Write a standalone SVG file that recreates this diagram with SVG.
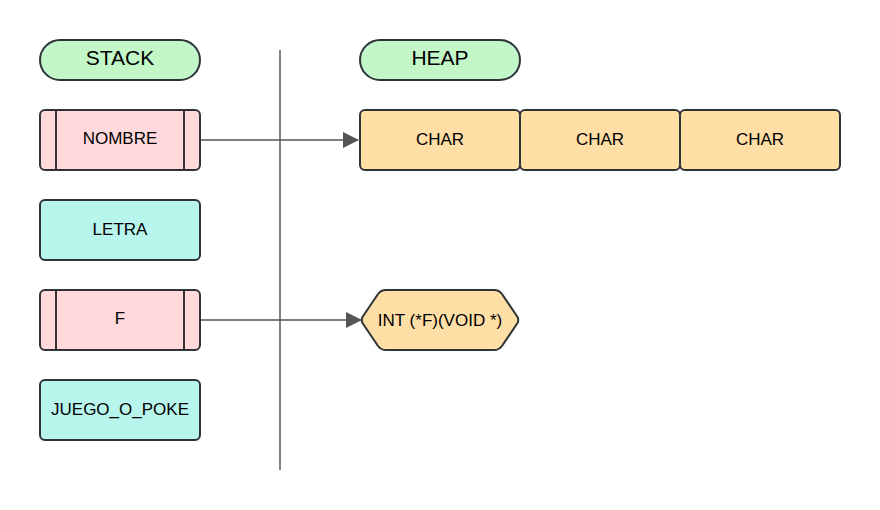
<svg xmlns="http://www.w3.org/2000/svg" width="880" height="510" viewBox="0 0 880 510">
<defs>
<style>
.b{stroke:#2f3337;stroke-width:2}
.pill{fill:#c3f7c8}
.pink{fill:#ffd9db}
.cyan{fill:#b8f5ec}
.org{fill:#ffdfa6}
text{font-family:"Liberation Sans",Arial,sans-serif;font-size:17px;fill:#000;text-anchor:middle;dominant-baseline:central}
.t{font-size:21px}
.c{stroke:#555;stroke-width:1.5;fill:none}
</style>
<marker id="ah" markerWidth="16" markerHeight="16" refX="15" refY="8" orient="auto" markerUnits="userSpaceOnUse"><path d="M0,0 L16,8 L0,16 Z" fill="#555"/></marker>
</defs>
<rect width="880" height="510" fill="#fff"/>
<g id="divider"><line x1="280" y1="50" x2="280" y2="470" class="c"/></g>
<g id="stack"><rect x="40" y="40" width="160" height="40" rx="20" class="b pill"/><text x="120" y="57" class="t">STACK</text></g>
<g id="heap"><rect x="360" y="40" width="160" height="40" rx="20" class="b pill"/><text x="440" y="57" class="t">HEAP</text></g>
<g id="nombre"><rect x="40" y="110" width="160" height="60" rx="5" class="b pink"/><line x1="56" y1="110" x2="56" y2="170" class="b"/><line x1="184" y1="110" x2="184" y2="170" class="b"/><text x="120" y="138">NOMBRE</text></g>
<g id="letra"><rect x="40" y="200" width="160" height="60" rx="5" class="b cyan"/><text x="120" y="229">LETRA</text></g>
<g id="f"><rect x="40" y="290" width="160" height="60" rx="5" class="b pink"/><line x1="56" y1="290" x2="56" y2="350" class="b"/><line x1="184" y1="290" x2="184" y2="350" class="b"/><text x="120" y="318">F</text></g>
<g id="juego"><rect x="40" y="380" width="160" height="60" rx="5" class="b cyan"/><text x="120" y="409">JUEGO_O_POKE</text></g>
<g id="char1"><rect x="360" y="110" width="160" height="60" rx="5" class="b org"/><text x="440" y="139">CHAR</text></g>
<g id="char2"><rect x="520" y="110" width="160" height="60" rx="5" class="b org"/><text x="600" y="139">CHAR</text></g>
<g id="char3"><rect x="680" y="110" width="160" height="60" rx="5" class="b org"/><text x="760" y="139">CHAR</text></g>
<g id="fptr"><path d="M362.5,323 Q361,320 362.5,317 L378,294 Q381,290 386,290 L494,290 Q499,290 502,294 L517.5,317 Q519,320 517.5,323 L502,346 Q499,350 494,350 L386,350 Q381,350 378,346 Z" class="b org" stroke-linejoin="round"/><text x="440" y="320">INT (*F)(VOID *)</text></g>
<g id="connectors">
<line x1="201" y1="140" x2="358" y2="140" class="c" marker-end="url(#ah)"/>
<line x1="201" y1="320" x2="361" y2="320" class="c" marker-end="url(#ah)"/>
</g>
</svg>
